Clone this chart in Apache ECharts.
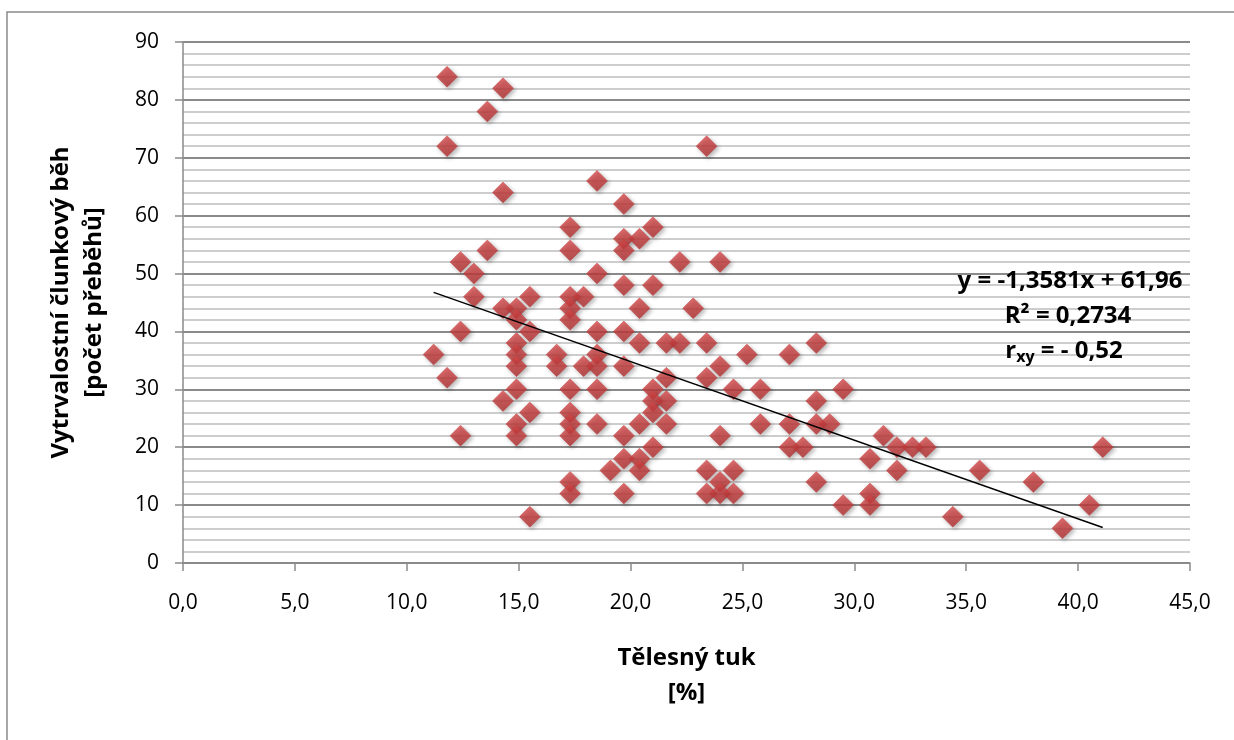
<!DOCTYPE html>
<html>
<head>
    <meta charset="utf-8">
    <title>Tělesný tuk vs. člunkový běh</title>
    <script src="https://cdn.jsdelivr.net/npm/echarts@6/dist/echarts.min.js"></script>
    <style>
        html, body { margin: 0; padding: 0; background: #fff; }
        #main { width: 1234px; height: 740px; }
    </style>
</head>
<body>
<div id="main"></div>
<script type="text/javascript">
    // body fat [%] and shuttle run laps
    var fatPct = [
        11.2,
        11.8, 11.8, 11.8,
        12.4, 12.4, 12.4,
        13.0, 13.0,
        13.6, 13.6,
        14.3, 14.3, 14.3, 14.3,
        14.9, 14.9, 14.9, 14.9, 14.9, 14.9, 14.9, 14.9,
        15.5, 15.5, 15.5, 15.5,
        16.7, 16.7,
        17.3, 17.3, 17.3, 17.3, 17.3, 17.3, 17.3, 17.3, 17.3, 17.3, 17.3,
        17.9, 17.9,
        18.5, 18.5, 18.5, 18.5, 18.5, 18.5, 18.5,
        19.1,
        19.7, 19.7, 19.7, 19.7, 19.7, 19.7, 19.7, 19.7, 19.7,
        20.4, 20.4, 20.4, 20.4, 20.4, 20.4,
        21.0, 21.0, 21.0, 21.0, 21.0, 21.0,
        21.6, 21.6, 21.6, 21.6,
        22.2, 22.2,
        22.8,
        23.4, 23.4, 23.4, 23.4, 23.4,
        24.0, 24.0, 24.0, 24.0, 24.0,
        24.6, 24.6, 24.6,
        25.2,
        25.8, 25.8,
        27.1, 27.1, 27.1,
        27.7,
        28.3, 28.3, 28.3, 28.3,
        28.9,
        29.5, 29.5,
        30.7, 30.7, 30.7,
        31.3,
        31.9, 31.9,
        32.6,
        33.2,
        34.4,
        35.6,
        38.0,
        39.3,
        40.5,
        41.1
    ];
    var shuttleRuns = [
        36,
        84, 72, 32,
        52, 40, 22,
        50, 46,
        78, 54,
        82, 64, 44, 28,
        44, 42, 38, 36, 34, 30, 24, 22,
        46, 40, 26, 8,
        36, 34,
        58, 54, 46, 44, 42, 30, 26, 24, 22, 14, 12,
        46, 34,
        66, 50, 40, 36, 34, 30, 24,
        16,
        62, 56, 54, 48, 40, 34, 22, 18, 12,
        56, 44, 38, 24, 18, 16,
        58, 48, 30, 28, 26, 20,
        38, 32, 28, 24,
        52, 38,
        44,
        72, 38, 32, 16, 12,
        52, 34, 22, 14, 12,
        30, 16, 12,
        36,
        30, 24,
        36, 24, 20,
        20,
        38, 28, 24, 14,
        24,
        30, 10,
        18, 12, 10,
        22,
        20, 16,
        20,
        20,
        8,
        16,
        14,
        6,
        10,
        20
    ];

    // linear trend printed on the chart
    var trendSlope = -1.3581;
    var trendIntercept = 61.96;
    var trendFrom = 11.2;
    var trendTo = 41.1;

    var xTicks = { min: 0, max: 45, step: 5 };
    var yTicks = { min: 0, max: 90, step: 10 };

    var points = [];
    for (var i = 0; i < fatPct.length; i++) {
        points.push([fatPct[i], shuttleRuns[i]]);
    }
    var trendLine = [
        [trendFrom, trendSlope * trendFrom + trendIntercept],
        [trendTo, trendSlope * trendTo + trendIntercept]
    ];

    var font = '"Open Sans", "Noto Sans", sans-serif';
    var boldFont = 'bold 24px ' + font;
    var myChart = echarts.init(document.getElementById('main'));

    var option = {
        backgroundColor: '#FFFFFF',
        animation: false,
        textStyle: { fontFamily: font, color: '#000' },
        grid: { left: 183, right: 44, top: 42, bottom: 177 },
        graphic: [
            {
                type: 'rect',
                shape: { x: 7, y: 12, width: 1260, height: 800 },
                style: { fill: 'none', stroke: '#8a8a8a', lineWidth: 1.5 },
                silent: true
            },
            {
                type: 'text',
                x: 1070, y: 281, z: 100,
                style: {
                    text: 'y = -1,3581x + 61,96',
                    font: boldFont, fill: '#000',
                    align: 'center', verticalAlign: 'middle'
                }
            },
            {
                type: 'text',
                x: 1068, y: 316, z: 100,
                style: {
                    text: 'R² = 0,2734',
                    font: boldFont, fill: '#000',
                    align: 'center', verticalAlign: 'middle'
                }
            },
            {
                type: 'text',
                x: 1064, y: 351, z: 100,
                style: {
                    text: '{n|r}{s|xy}{n| = - 0,52}',
                    align: 'center', verticalAlign: 'middle',
                    rich: {
                        n: { font: boldFont, fill: '#000' },
                        s: { font: 'bold 16px ' + font, fill: '#000', padding: [12, 0, 0, 0] }
                    }
                }
            }
        ],
        xAxis: {
            type: 'value',
            min: xTicks.min,
            max: xTicks.max,
            interval: xTicks.step,
            name: 'Tělesný tuk\n[%]',
            nameLocation: 'middle',
            nameGap: 78,
            nameTextStyle: { fontWeight: 'bold', fontSize: 24, lineHeight: 35, color: '#000' },
            axisLine: { show: true, lineStyle: { color: '#8a8a8a', width: 1.5 } },
            axisTick: { show: true, length: 8, lineStyle: { color: '#8a8a8a', width: 1.5 } },
            axisLabel: {
                fontSize: 21, color: '#000', margin: 30,
                formatter: function (v) { return v.toFixed(1).replace('.', ','); }
            },
            splitLine: { show: false }
        },
        yAxis: {
            type: 'value',
            min: yTicks.min,
            max: yTicks.max,
            interval: yTicks.step,
            name: 'Vytrvalostní člunkový běh\n[počet přeběhů]',
            nameLocation: 'middle',
            nameGap: 72,
            nameTextStyle: { fontWeight: 'bold', fontSize: 24, lineHeight: 33, color: '#000' },
            axisLine: { show: true, lineStyle: { color: '#8a8a8a', width: 1.5 } },
            axisTick: { show: true, length: 8, lineStyle: { color: '#8a8a8a', width: 1.5 } },
            axisLabel: { fontSize: 21, color: '#000', margin: 24 },
            splitLine: { show: true, lineStyle: { color: '#8a8a8a', width: 2 } },
            minorTick: { show: false, splitNumber: 5 },
            minorSplitLine: { show: true, lineStyle: { color: '#bdbdbd', width: 1.5 } }
        },
        series: [
            {
                name: 'data',
                type: 'scatter',
                symbol: 'diamond',
                symbolSize: 21,
                itemStyle: {
                    color: new echarts.graphic.LinearGradient(0, 0, 0, 1, [
                        { offset: 0, color: '#d9494a' },
                        { offset: 1, color: '#b02e2f' }
                    ]),
                    borderColor: '#c0393a',
                    borderWidth: 0.5,
                    shadowBlur: 4,
                    shadowOffsetX: 2,
                    shadowOffsetY: 2,
                    shadowColor: 'rgba(0,0,0,0.35)'
                },
                data: points,
                z: 3
            },
            {
                name: 'trend',
                type: 'line',
                data: trendLine,
                symbol: 'none',
                lineStyle: { color: '#000', width: 1.5 },
                silent: true,
                z: 4
            }
        ]
    };

    myChart.setOption(option);
</script>
</body>
</html>
